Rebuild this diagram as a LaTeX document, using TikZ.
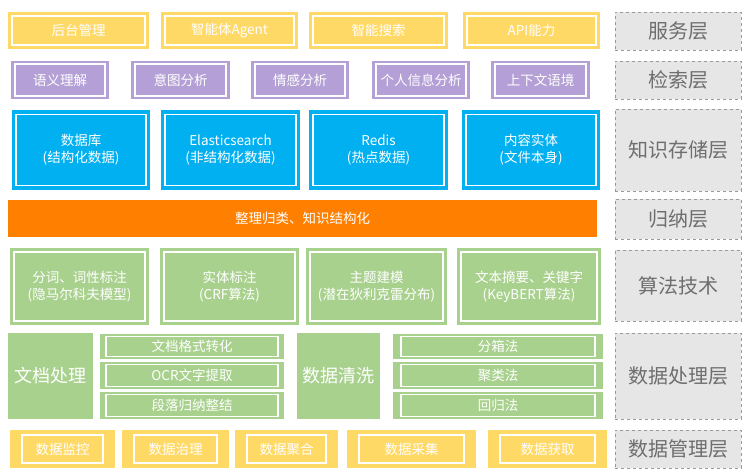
\documentclass[tikz,border=0pt]{standalone}
\usepackage{fontspec}
\setmainfont{Noto Sans CJK SC}
\begin{document}
\begin{tikzpicture}[x=1pt,y=-1pt,
  base/.style={draw=none,inner sep=0pt,align=center,text=white,font=\fontsize{13.5}{17}\selectfont},
  inb/.style 2 args={path picture={\draw[white,line width=1.1pt]
      ([shift={(#1,-#2)}]path picture bounding box.north west) rectangle
      ([shift={(-#1,#2)}]path picture bounding box.south east);}},
  yel/.style={base,fill=svcY},
  pur/.style={base,fill=retP,inb={4pt}{3pt}},
  blu/.style={base,fill=stoB,inb={4pt}{4.5pt}},
  grn/.style={base,fill=algG},
  lay/.style={draw=layB,dashed,line width=0.8pt,fill=layF,text=layT,inner sep=0pt,font=\fontsize{20}{24}\selectfont},
]
\definecolor{svcY}{HTML}{FFD966}
\definecolor{retP}{HTML}{B4A0D6}
\definecolor{stoB}{HTML}{00B0F0}
\definecolor{orgO}{HTML}{FF8000}
\definecolor{algG}{HTML}{A9D18E}
\definecolor{layF}{HTML}{E7E6E6}
\definecolor{layB}{HTML}{9A9A9A}
\definecolor{layT}{HTML}{6E6E6E}
\useasboundingbox[fill=white] (0,0) rectangle (743,471);

% ---- service layer
\foreach \nm/\xa/\xb/\tx in {s1/8/149/后台管理, s2/161/298/智能体Agent, s3/309/448/智能搜索, s4/463/600/API能力}{
  \node[yel,inb={4pt}{4pt},minimum width={\xb-\xa},minimum height=37pt] (\nm) at ({(\xa+\xb)/2},30.5) {\tx};
}
% ---- retrieval layer
\foreach \nm/\xa/\xb/\tx in {r1/11/109/语义理解, r2/131/230/意图分析, r3/251/349/情感分析, r4/372/470/个人信息分析, r5/491/590/上下文语境}{
  \node[pur,minimum width={\xb-\xa},minimum height=38pt] (\nm) at ({(\xa+\xb)/2},80) {\tx};
}
% ---- storage layer
\node[blu,minimum width=138pt,minimum height=80pt] (k1) at (81,150) {数据库\\(结构化数据)};
\node[blu,minimum width=139pt,minimum height=80pt] (k2) at (230.5,150) {Elasticsearch\\(非结构化数据)};
\node[blu,minimum width=139pt,minimum height=80pt] (k3) at (378.5,150) {Redis\\(热点数据)};
\node[blu,minimum width=138pt,minimum height=80pt] (k4) at (531,150) {内容实体\\(文件本身)};
% ---- induction
\node[base,fill=orgO,minimum width=589pt,minimum height=37pt] (o1) at (302.5,218.5) {整理归类、知识结构化};
% ---- algorithms
\node[grn,inb={4pt}{4pt},minimum width=139pt,minimum height=77pt] (a1) at (79.5,286.5) {分词、词性标注\\(隐马尔科夫模型)};
\node[grn,inb={4pt}{4pt},minimum width=139pt,minimum height=77pt] (a2) at (229.5,286.5) {实体标注\\(CRF算法)};
\node[grn,inb={4pt}{4pt},minimum width=141pt,minimum height=77pt] (a3) at (376.5,286.5) {主题建模\\(潜在狄利克雷分布)};
\node[grn,inb={4pt}{4pt},minimum width=144pt,minimum height=77pt] (a4) at (529,286.5) {文本摘要、关键字\\(KeyBERT算法)};
% ---- data processing
\node[grn,font=\fontsize{18}{22}\selectfont,minimum width=85pt,minimum height=86pt] (d1) at (50.5,376) {文档处理};
\node[grn,inb={6pt}{2.5pt},minimum width=184pt,minimum height=25pt] (d11) at (192,346.5) {文档格式转化};
\node[grn,inb={6pt}{2.5pt},minimum width=184pt,minimum height=27pt] (d12) at (192,375.5) {OCR文字提取};
\node[grn,inb={6pt}{2.5pt},minimum width=184pt,minimum height=27pt] (d13) at (192,405.5) {段落归纳整结};
\node[grn,font=\fontsize{18}{22}\selectfont,minimum width=83pt,minimum height=86pt] (d2) at (338.5,376) {数据清洗};
\node[grn,inb={8pt}{2.5pt},minimum width=210pt,minimum height=25pt] (d21) at (498,346.5) {分箱法};
\node[grn,inb={8pt}{2.5pt},minimum width=210pt,minimum height=27pt] (d22) at (498,375.5) {聚类法};
\node[grn,inb={8pt}{2.5pt},minimum width=210pt,minimum height=27pt] (d23) at (498,405.5) {回归法};
% ---- data management
\foreach \nm/\xa/\xb/\tx in {m1/10/115/数据监控, m2/122/229/数据治理, m3/235/338/数据聚合, m4/347/476/数据采集, m5/488/607/数据获取}{
  \node[yel,inb={12pt}{5pt},minimum width={\xb-\xa},minimum height=38pt] (\nm) at ({(\xa+\xb)/2},449) {\tx};
}
% ---- layer labels
\node[lay,minimum width=126pt,minimum height=38pt] (L1) at (678,31) {服务层};
\node[lay,minimum width=126pt,minimum height=38pt] (L2) at (678,80) {检索层};
\node[lay,minimum width=126pt,minimum height=82pt] (L3) at (678,150) {知识存储层};
\node[lay,minimum width=126pt,minimum height=40pt] (L4) at (678,219) {归纳层};
\node[lay,minimum width=126pt,minimum height=71pt] (L5) at (678,285.5) {算法技术};
\node[lay,minimum width=126pt,minimum height=86pt] (L6) at (678,376) {数据处理层};
\node[lay,minimum width=126pt,minimum height=38pt] (L7) at (678,449) {数据管理层};
\end{tikzpicture}
\end{document}
